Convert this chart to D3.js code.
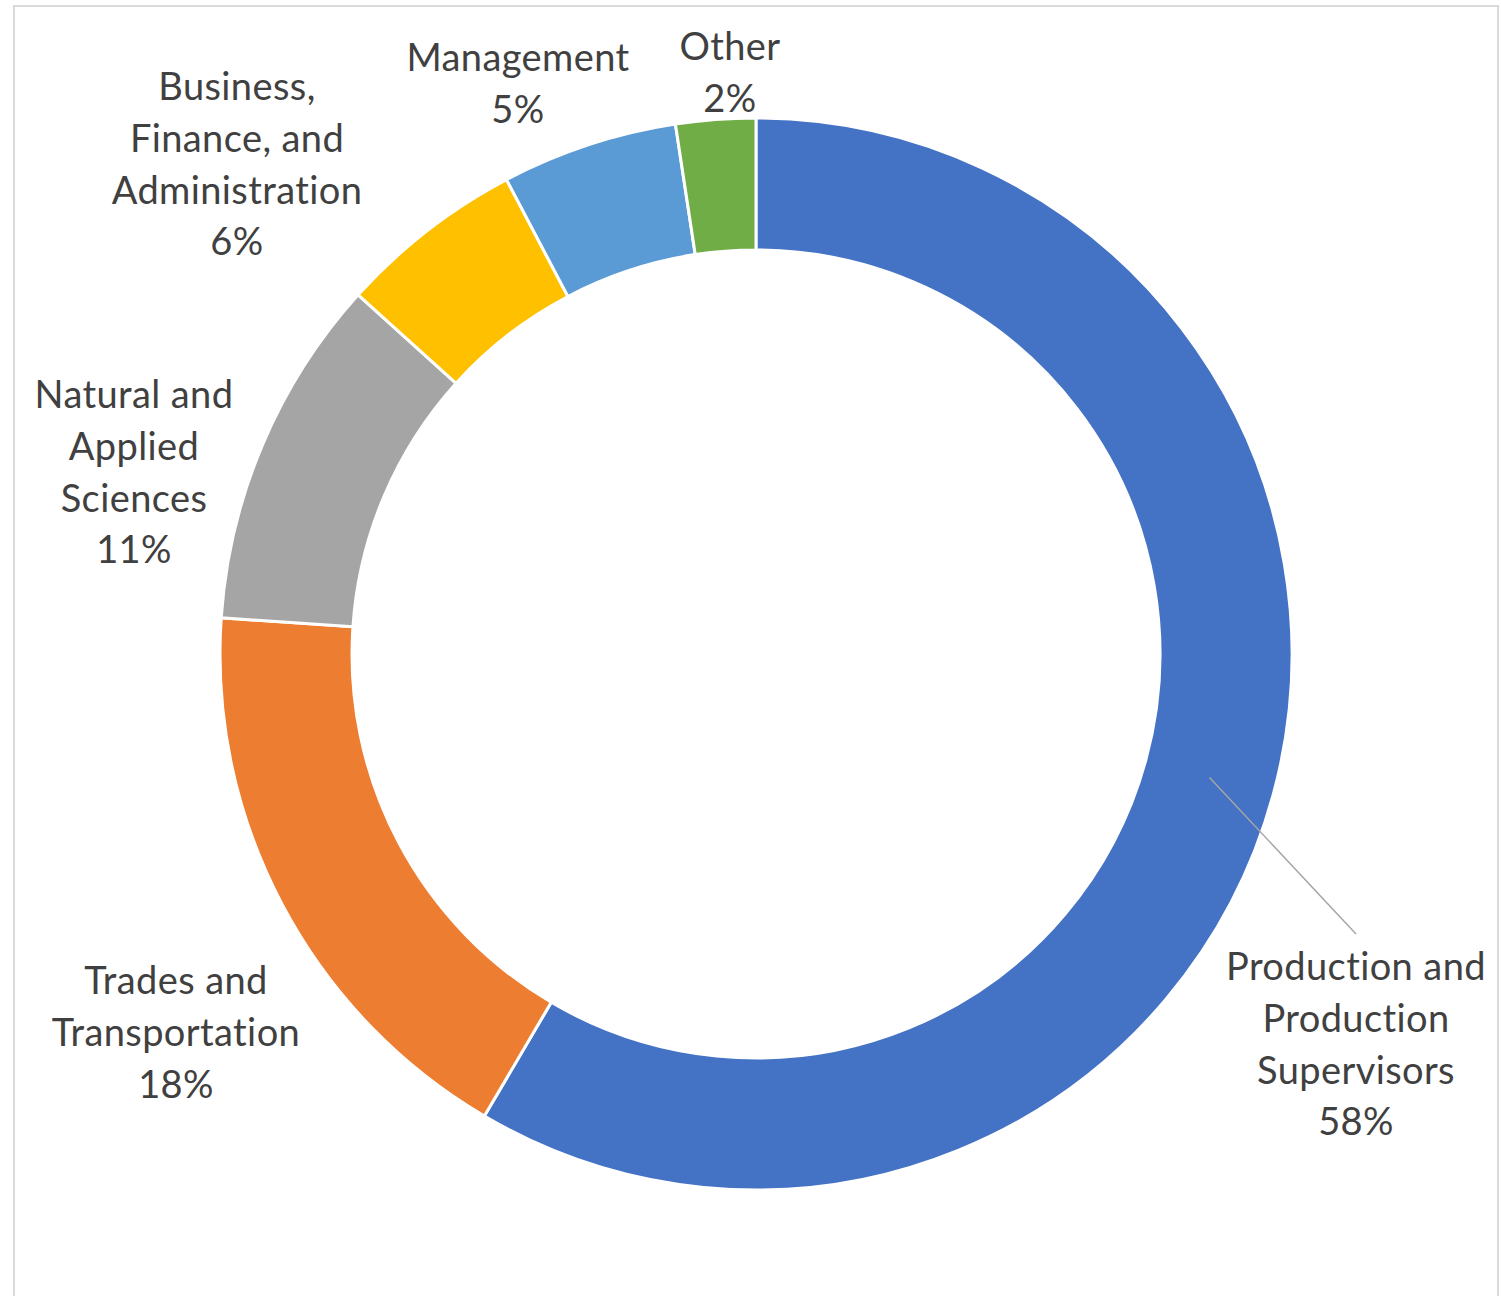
<!DOCTYPE html>
<html>
<head>
<meta charset="utf-8">
<script src="https://cdn.jsdelivr.net/npm/d3@7"></script>
<style>
  html, body { margin: 0; padding: 0; background: #ffffff; }
  svg { display: block; }
  .lbl { font-family: Lato, "Open Sans", sans-serif; font-size: 38px; letter-spacing: 0.4px; fill: #404040; font-variant-ligatures: none; }
</style>
</head>
<body>
<svg id="chart" width="1501" height="1296"></svg>
<script>
// Occupation categories and their shares of employment (percent)
const categories = [
  "Production and Production Supervisors",
  "Trades and Transportation",
  "Natural and Applied Sciences",
  "Business, Finance, and Administration",
  "Management",
  "Other"
];
const shares = [58.4, 17.6, 10.6, 5.6, 5.3, 2.4];
const colors = ["#4472C4", "#ED7D31", "#A5A5A5", "#FFC000", "#5B9BD5", "#70AD47"];

// Label text broken into lines, one list per category
const labelLines = [
  ["Production and", "Production", "Supervisors"],
  ["Trades and", "Transportation"],
  ["Natural and", "Applied", "Sciences"],
  ["Business,", "Finance, and", "Administration"],
  ["Management"],
  ["Other"]
];

// Layout
const W = 1501, H = 1296;
const cx = 756, cy = 654;
const outerR = 536, innerR = 404;
const lineGap = 51.8;
// first-line baseline position for each label block
const labelPos = [
  { x: 1356, y: 980 },
  { x: 176, y: 994 },
  { x: 134, y: 408 },
  { x: 237, y: 100 },
  { x: 518, y: 71 },
  { x: 730, y: 60 }
];

const svg = d3.select("#chart");

// chart frame
svg.append("rect")
  .attr("x", 14).attr("y", 6)
  .attr("width", 1484).attr("height", 1300)
  .attr("fill", "#ffffff")
  .attr("stroke", "#d9d9d9")
  .attr("stroke-width", 2);

const data = categories.map((c, i) => ({ name: c, value: shares[i], color: colors[i], lines: labelLines[i], pos: labelPos[i] }));
const total = d3.sum(shares);

const pie = d3.pie().value(d => d.value).sort(null);
const arc = d3.arc().innerRadius(innerR).outerRadius(outerR);
const arcs = pie(data);

const g = svg.append("g").attr("transform", `translate(${cx},${cy})`);

g.selectAll("path.slice")
  .data(arcs)
  .join("path")
  .attr("class", "slice")
  .attr("d", arc)
  .attr("fill", d => d.data.color)
  .attr("stroke", "#ffffff")
  .attr("stroke-width", 3)
  .attr("stroke-linejoin", "miter");

// leader line from the centroid of the largest slice to its label
const c0 = arc.centroid(arcs[0]);
svg.append("line")
  .attr("x1", cx + c0[0])
  .attr("y1", cy + c0[1])
  .attr("x2", labelPos[0].x)
  .attr("y2", labelPos[0].y - 46)
  .attr("stroke", "#a6a6a6")
  .attr("stroke-width", 1.5);

// labels: category name lines followed by rounded percentage
const fmt = v => Math.round(v / total * 100) + "%";
data.forEach(d => {
  const t = svg.append("text")
    .attr("class", "lbl")
    .attr("text-anchor", "middle");
  const lines = d.lines.concat([fmt(d.value)]);
  lines.forEach((ln, j) => {
    t.append("tspan")
      .attr("x", d.pos.x)
      .attr("y", d.pos.y + j * lineGap)
      .text(ln);
  });
});
</script>
</body>
</html>
